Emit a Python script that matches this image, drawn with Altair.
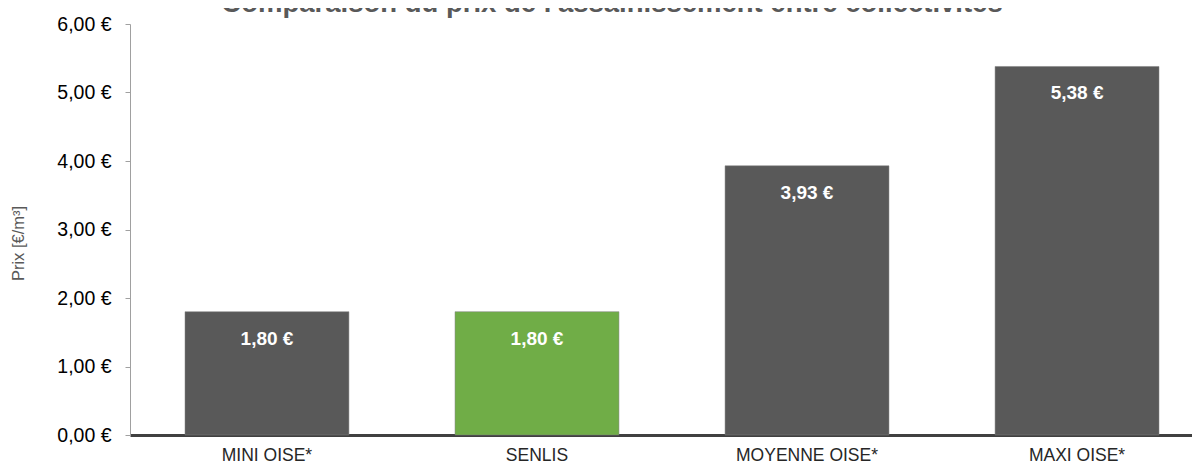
import altair as alt
import pandas as pd

categories = ["MINI OISE*", "SENLIS", "MOYENNE OISE*", "MAXI OISE*"]
values = [1.80, 1.80, 3.93, 5.38]
colors = ["#595959", "#70AD47", "#595959", "#595959"]
title_text = "Comparaison du prix de l'assainissement entre collectivités"
y_title = "Prix [€/m³]"

labels = [f"{v:.2f}".replace(".", ",") + " €" for v in values]
df = pd.DataFrame({"cat": categories, "val": values, "color": colors, "label": labels})

FONT = "Liberation Sans, Arial, sans-serif"

x = alt.X(
    "cat:N",
    sort=categories,
    title=None,
    scale=alt.Scale(paddingInner=0.393, paddingOuter=0.163, align=0.625),
    axis=alt.Axis(
        domainColor="#404040", domainWidth=3, ticks=False, labelAngle=0,
        labelFont=FONT, labelFontSize=17.5, labelColor="#262626",
        labelPadding=25, labelBaseline="alphabetic",
    ),
)
y = alt.Y(
    "val:Q",
    title=y_title,
    scale=alt.Scale(domain=[0, 6], nice=False),
    axis=alt.Axis(
        values=[0, 1, 2, 3, 4, 5, 6], grid=False,
        domainColor="#a0a0a0", domainWidth=1, tickColor="#a0a0a0", tickSize=5,
        labelExpr="replace(format(datum.value, '.2f'), '.', ',') + ' €'",
        labelFont=FONT, labelFontSize=19.5, labelColor="#000000", labelPadding=14,
        labelBaseline="middle",
        titleFont=FONT, titleFontSize=16.5, titleFontWeight="normal", titleColor="#595959",
        titleX=-112, titleY=219, titleAngle=-90, titleBaseline="middle", titleAlign="center",
    ),
)

bars = alt.Chart(df).mark_bar(stroke="#7f7f7f", strokeWidth=0.5).encode(
    x=x, y=y, color=alt.Color("color:N", scale=None)
)
text = alt.Chart(df).mark_text(
    dy=33, color="white", font=FONT, fontSize=19, fontWeight="bold", baseline="alphabetic"
).encode(x=alt.X("cat:N", sort=categories), y="val:Q", text="label:N")

chart = alt.layer(bars, text).properties(
    width=1062, height=411,
    autosize=alt.AutoSizeParams(type="none"),
    padding={"left": 122, "top": 16, "right": 0, "bottom": 30},
    title=alt.TitleParams(
        text=title_text, font=FONT, fontSize=27.5, fontWeight="bold", color="#595959",
        anchor="middle", frame="group", baseline="alphabetic", offset=0, dy=25, dx=-49,
    ),
).configure_view(stroke=None)

chart.save("out.html", embed_options={"renderer": "svg", "actions": False})
